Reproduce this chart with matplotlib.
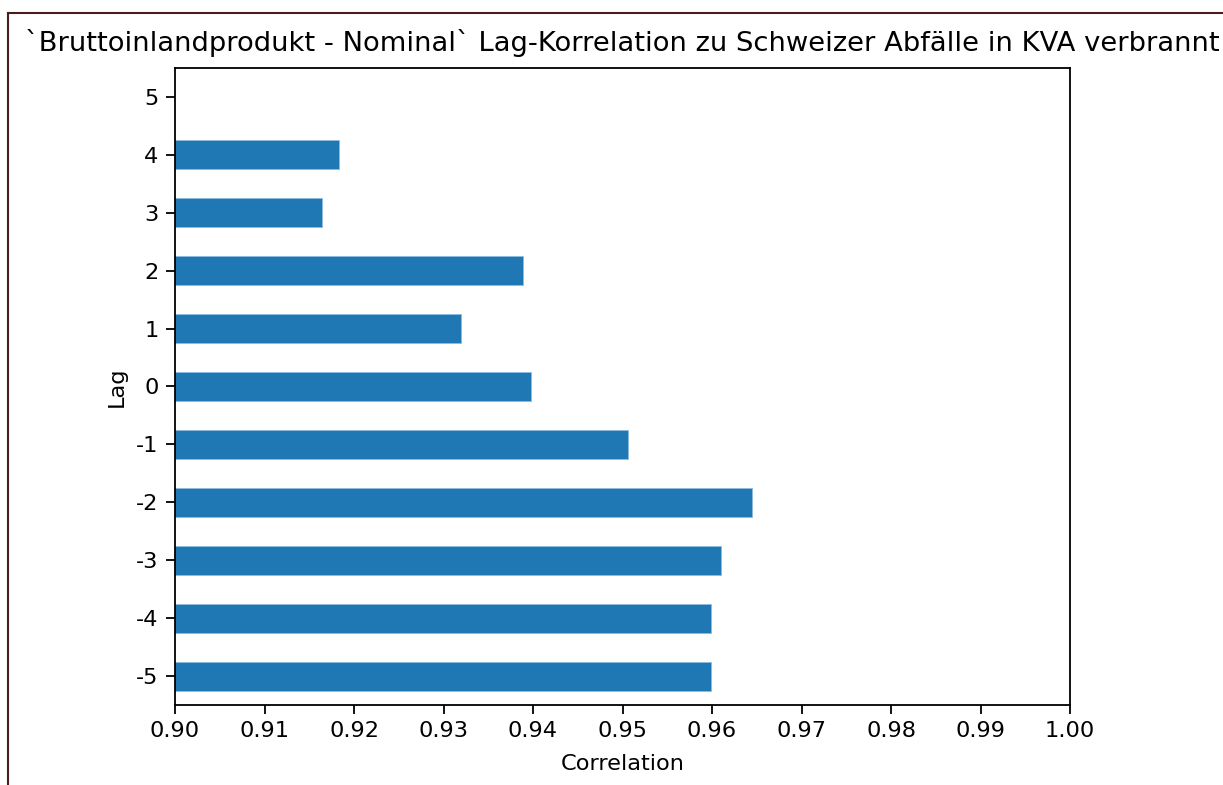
# Lag correlation bar chart (horizontal), pandas-style barh look

import numpy as np
import matplotlib.pyplot as plt
from matplotlib.lines import Line2D

# -----------------------------
# Data
# -----------------------------
lags = [-5, -4, -3, -2, -1, 0, 1, 2, 3, 4, 5]
correlation = [0.9599, 0.9599, 0.9610, 0.9645, 0.9506, 0.9398,
               0.9320, 0.9389, 0.9164, 0.9183, np.nan]

title = "`Bruttoinlandprodukt - Nominal` Lag-Korrelation zu Schweizer Abfälle in KVA verbrannt"

# -----------------------------
# Plot
# -----------------------------
fig = plt.figure(figsize=(12.23, 7.85), dpi=100)
ax = fig.add_axes([0.1431, 0.1019, 0.7318, 0.8115])

pos = np.arange(len(lags))
ax.barh(pos, correlation, height=0.5, color="#1f77b4",
        edgecolor="#8fbbe0", linewidth=0.6)

ax.set_yticks(pos)
ax.set_yticklabels([str(l) for l in lags])
ax.set_ylim(-0.5, len(lags) - 0.5)
ax.set_xlim(0.90, 1.00)
ax.set_xticks(np.arange(0.90, 1.001, 0.01))
ax.set_xticklabels([f"{v:.2f}" for v in np.arange(0.90, 1.001, 0.01)])

ax.set_xlabel("Correlation", fontsize=16.2, labelpad=9)
ax.set_ylabel("Lag", fontsize=16.2, labelpad=7)
ax.set_title(title, fontsize=19.7, pad=12)

ax.tick_params(labelsize=16.2, length=6.3, width=1.3, pad=5.5)
for s in ax.spines.values():
    s.set_linewidth(1.3)

# screenshot frame at top and left
fig.add_artist(Line2D([8 / 1223, 1], [1 - 13 / 785, 1 - 13 / 785],
                      transform=fig.transFigure, color="#4a1c1c", lw=1.5))
fig.add_artist(Line2D([8 / 1223, 8 / 1223], [0, 1 - 13 / 785],
                      transform=fig.transFigure, color="#4a1c1c", lw=1.5))

fig.savefig("out.png", dpi=100)
